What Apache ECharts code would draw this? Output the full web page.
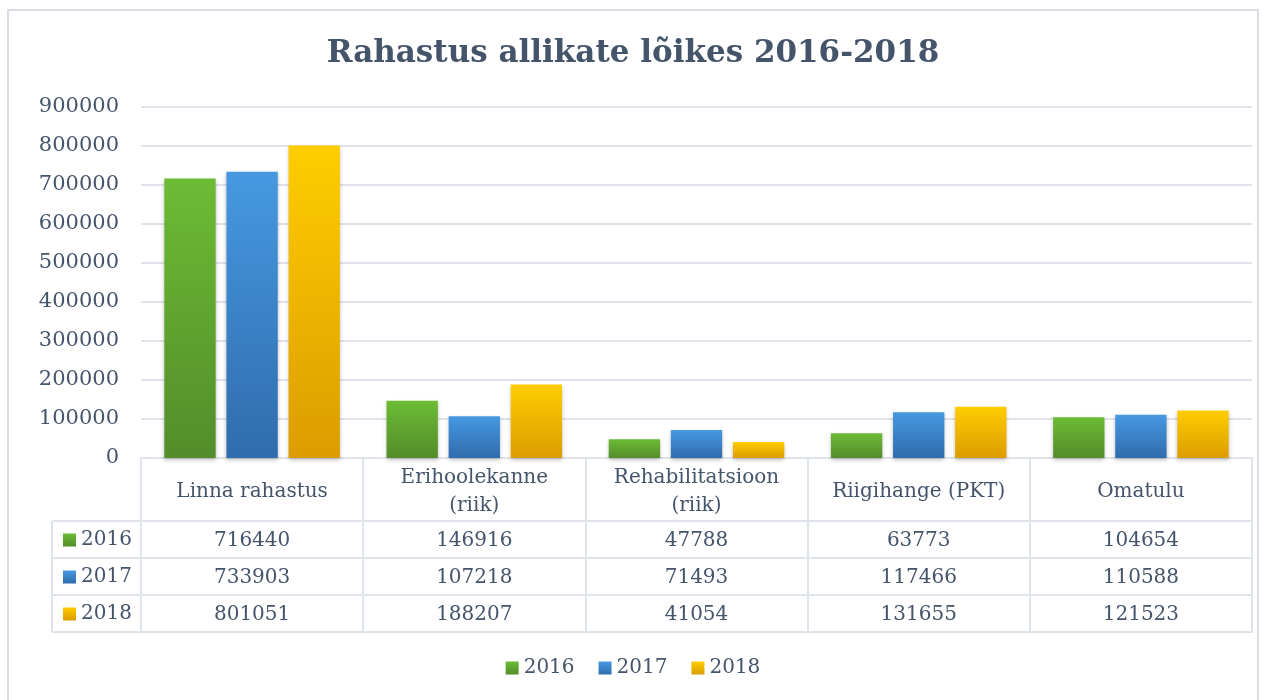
<!DOCTYPE html>
<html>
<head>
<meta charset="utf-8">
<script src="https://cdn.jsdelivr.net/npm/echarts@6/dist/echarts.min.js"></script>
<style>
	html, body { margin: 0; padding: 0; background: #fff; }
	#main { width: 1266px; height: 700px; }
</style>
</head>
<body>
<div id="main"></div>
<script>
	// kategooriad
	var categories = ['Linna rahastus', 'Erihoolekanne\n(riik)', 'Rehabilitatsioon\n(riik)', 'Riigihange (PKT)', 'Omatulu'];
	var years = ['2016', '2017', '2018'];
	// väärtused aastate kaupa
	var v2016 = [716440, 146916, 47788, 63773, 104654];
	var v2017 = [733903, 107218, 71493, 117466, 110588];
	var v2018 = [801051, 188207, 41054, 131655, 121523];
	var yTicks = [0, 900000, 100000]; // min, max, samm

	var values = [v2016, v2017, v2018];
	var txt = '#44546a';
	var font = 'DejaVu Serif';
	var line = '#dfe3ea';
	var colors = [
		['#6cbb35', '#538d2a'],
		['#4699e1', '#2f6cad'],
		['#ffcd00', '#dc9c00']
	];

	function grad(c) {
		return new echarts.graphic.LinearGradient(0, 0, 0, 1, [
			{ offset: 0, color: c[0] },
			{ offset: 1, color: c[1] }
		]);
	}

	var chart = echarts.init(document.getElementById('main'));

	// tabeli read = lisateljed
	var xAxes = [{
		type: 'category',
		data: categories,
		position: 'bottom',
		axisLine: { lineStyle: { color: line, width: 2 } },
		axisTick: { show: true, length: 174, lineStyle: { color: line, width: 2 } },
		axisLabel: {
			color: txt, fontFamily: font, fontSize: 20, lineHeight: 28,
			margin: 34, verticalAlign: 'middle', interval: 0
		}
	}];
	for (var r = 0; r < 3; r++) {
		(function (r) {
			xAxes.push({
				type: 'category',
				data: categories,
				position: 'bottom',
				offset: 63 + r * 37,
				axisLine: { lineStyle: { color: line, width: 2 } },
				axisTick: { show: false },
				axisLabel: {
					color: txt, fontFamily: font, fontSize: 20,
					margin: 20, verticalAlign: 'middle', interval: 0,
					formatter: function (v, i) { return String(values[r][i]); }
				}
			});
		})(r);
	}
	xAxes.push({
		type: 'category',
		data: categories,
		position: 'bottom',
		offset: 174,
		axisLine: { lineStyle: { color: line, width: 2 } },
		axisTick: { show: false },
		axisLabel: { show: false }
	});

	var series = [];
	for (var s = 0; s < 3; s++) {
		series.push({
			name: years[s],
			type: 'bar',
			data: values[s],
			barGap: '21%',
			barCategoryGap: '21%',
			itemStyle: {
				color: grad(colors[s]),
				shadowBlur: 4,
				shadowOffsetY: 2,
				shadowColor: 'rgba(0,0,0,0.25)'
			}
		});
	}

	var leftLines = [];
	[521, 558, 595, 632].forEach(function (y) {
		leftLines.push({ type: 'line', shape: { x1: 52, y1: y, x2: 141, y2: y }, style: { stroke: line, lineWidth: 2 } });
	});
	leftLines.push({ type: 'line', shape: { x1: 52, y1: 521, x2: 52, y2: 632 }, style: { stroke: line, lineWidth: 2 } });

	option = {
		backgroundColor: '#fff',
		animation: false,
		title: {
			text: 'Rahastus allikate lõikes 2016-2018',
			left: 'center',
			top: 33,
			textStyle: { color: txt, fontFamily: font, fontSize: 31, fontWeight: 'bold' }
		},
		legend: [{
			data: years,
			bottom: 17,
			left: 'center',
			itemWidth: 13,
			itemHeight: 13,
			itemGap: 24,
			itemTextGap: 5,
			icon: 'rect',
			textStyle: { color: txt, fontFamily: font, fontSize: 20 }
		}, {
			data: years,
			orient: 'vertical',
			left: 58,
			top: 525,
			itemWidth: 13,
			itemHeight: 13,
			itemGap: 17,
			itemTextGap: 5,
			icon: 'rect',
			textStyle: { color: txt, fontFamily: font, fontSize: 20, lineHeight: 20 }
		}],
		grid: { left: 141, right: 14, top: 107, bottom: 242 },
		xAxis: xAxes,
		yAxis: {
			type: 'value',
			min: yTicks[0],
			max: yTicks[1],
			interval: yTicks[2],
			axisLine: { show: false },
			axisTick: { show: false },
			splitLine: { lineStyle: { color: line, width: 2 } },
			axisLabel: {
				color: txt, fontFamily: font, fontSize: 21, margin: 22,
				formatter: function (v) { return String(v); }
			}
		},
		graphic: [{
			type: 'rect',
			shape: { x: 8, y: 10, width: 1250, height: 700 },
			style: { fill: 'none', stroke: '#d9dde3', lineWidth: 2 },
			silent: true
		}].concat(leftLines),
		series: series
	};
	chart.setOption(option);
</script>
</body>
</html>
